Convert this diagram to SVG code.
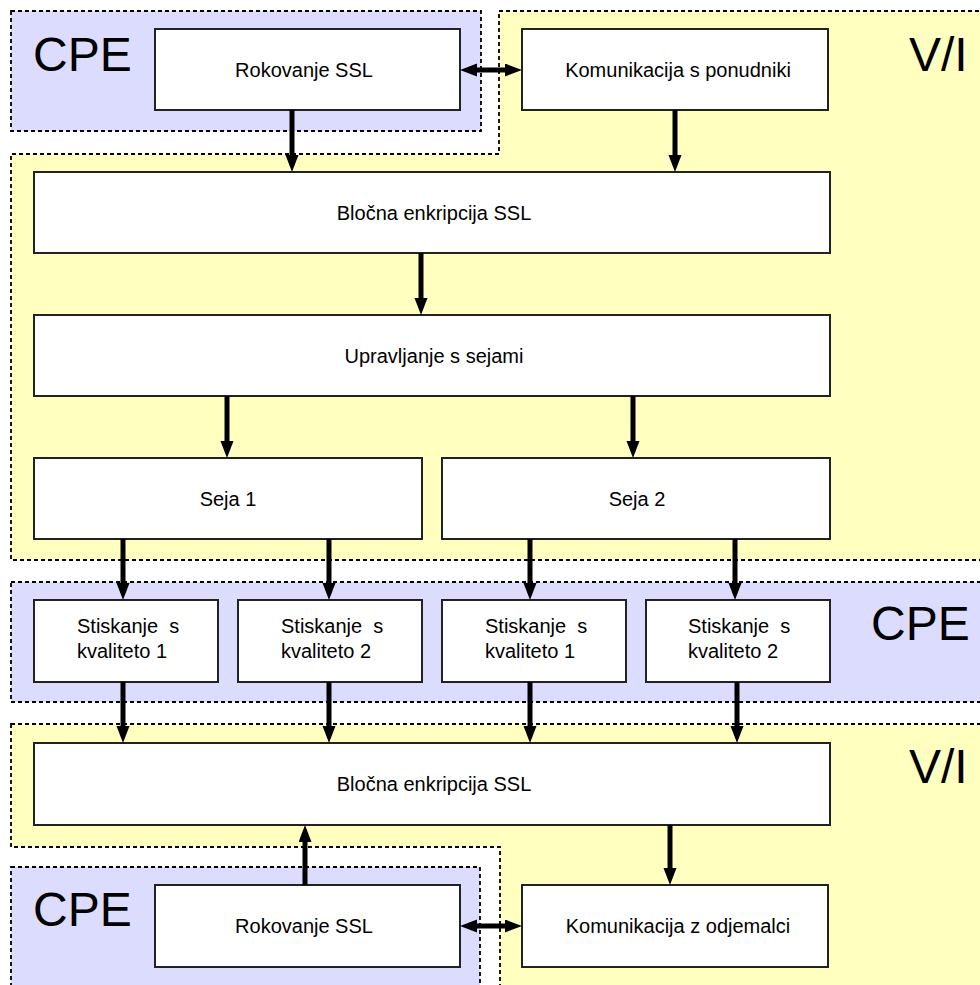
<svg xmlns="http://www.w3.org/2000/svg" width="980" height="985" viewBox="0 0 980 985">
<style>
.cpe{fill:#DCDCFF;stroke:#000;stroke-width:1.8;stroke-dasharray:4,3}
.vi{fill:#FFFFC0;stroke:#000;stroke-width:1.8;stroke-dasharray:4,3}
.box{fill:#fff;stroke:#222;stroke-width:2}
.lbl{font-family:"Liberation Sans",Arial,sans-serif;font-size:20px;fill:#000;text-anchor:middle}
.lbl2{font-family:"Liberation Sans",Arial,sans-serif;font-size:20px;fill:#000}
.big{font-family:"Liberation Sans",Arial,sans-serif;font-size:48px;fill:#000}
.arr{stroke:#000;stroke-width:5;fill:none;marker-end:url(#ah)}
.dbl{stroke:#000;stroke-width:5;fill:none;marker-end:url(#ah);marker-start:url(#ah)}
</style>
<defs>
<marker id="ah" markerUnits="userSpaceOnUse" markerWidth="19" markerHeight="15" refX="2" refY="6.5" orient="auto-start-reverse">
<path d="M0,0 L17,6.5 L0,13 z" fill="#000"/>
</marker>
</defs>
<rect width="980" height="985" fill="#fff"/>
<g id="regions">
<path class="vi" d="M499,11 H995 V560 H11 V154 H499 Z"/>
<rect class="cpe" x="11" y="11" width="470" height="120"/>
<rect class="cpe" x="11" y="582" width="985" height="120"/>
<path class="vi" d="M11,724 H995 V995 H500 V847 H11 Z"/>
<rect class="cpe" x="11" y="867" width="469" height="130"/>
<text class="big" x="33" y="71">CPE</text>
<text class="big" x="909" y="71">V/I</text>
<text class="big" x="871" y="640">CPE</text>
<text class="big" x="909" y="783">V/I</text>
<text class="big" x="33" y="926">CPE</text>
</g>
<g id="n_rok1"><rect class="box" x="155" y="29" width="305" height="81"/><text class="lbl" x="304" y="77">Rokovanje SSL</text></g>
<g id="n_kom1"><rect class="box" x="522" y="29" width="306" height="81"/><text class="lbl" x="678" y="77">Komunikacija s ponudniki</text></g>
<g id="n_blo1"><rect class="box" x="34" y="172" width="796" height="81"/><text class="lbl" x="434" y="220">Bločna enkripcija SSL</text></g>
<g id="n_upr"><rect class="box" x="34" y="315" width="796" height="81"/><text class="lbl" x="434" y="363">Upravljanje s sejami</text></g>
<g id="n_seja1"><rect class="box" x="34" y="458" width="388" height="81"/><text class="lbl" x="228" y="506">Seja 1</text></g>
<g id="n_seja2"><rect class="box" x="442" y="458" width="388" height="81"/><text class="lbl" x="637" y="506">Seja 2</text></g>
<g id="n_st1"><rect class="box" x="34" y="600" width="184" height="82"/><text class="lbl2" xml:space="preserve"><tspan x="77" y="633">Stiskanje  s</tspan><tspan x="77" y="658">kvaliteto 1</tspan></text></g>
<g id="n_st2"><rect class="box" x="238" y="600" width="184" height="82"/><text class="lbl2" xml:space="preserve"><tspan x="281" y="633">Stiskanje  s</tspan><tspan x="281" y="658">kvaliteto 2</tspan></text></g>
<g id="n_st3"><rect class="box" x="442" y="600" width="184" height="82"/><text class="lbl2" xml:space="preserve"><tspan x="485" y="633">Stiskanje  s</tspan><tspan x="485" y="658">kvaliteto 1</tspan></text></g>
<g id="n_st4"><rect class="box" x="646" y="600" width="184" height="82"/><text class="lbl2" xml:space="preserve"><tspan x="688" y="633">Stiskanje  s</tspan><tspan x="688" y="658">kvaliteto 2</tspan></text></g>
<g id="n_blo2"><rect class="box" x="34" y="743" width="796" height="82"/><text class="lbl" x="434" y="791">Bločna enkripcija SSL</text></g>
<g id="n_rok2"><rect class="box" x="155" y="885" width="305" height="82"/><text class="lbl" x="304" y="933">Rokovanje SSL</text></g>
<g id="n_kom2"><rect class="box" x="522" y="885" width="306" height="82"/><text class="lbl" x="678" y="933">Komunikacija z odjemalci</text></g>
<g id="connectors">
<line class="dbl" x1="475" y1="70" x2="507" y2="70"/>
<line class="arr" x1="292" y1="110" x2="292" y2="157"/>
<line class="arr" x1="675" y1="110" x2="675" y2="157"/>
<line class="arr" x1="421" y1="253" x2="421" y2="300"/>
<line class="arr" x1="227" y1="396" x2="227" y2="443"/>
<line class="arr" x1="633" y1="396" x2="633" y2="443"/>
<line class="arr" x1="123" y1="539" x2="123" y2="585"/>
<line class="arr" x1="329" y1="539" x2="329" y2="585"/>
<line class="arr" x1="530" y1="539" x2="530" y2="585"/>
<line class="arr" x1="735" y1="539" x2="735" y2="585"/>
<line class="arr" x1="123" y1="682" x2="123" y2="728"/>
<line class="arr" x1="329" y1="682" x2="329" y2="728"/>
<line class="arr" x1="530" y1="682" x2="530" y2="728"/>
<line class="arr" x1="737" y1="682" x2="737" y2="728"/>
<line class="arr" x1="305" y1="885" x2="305" y2="840"/>
<line class="arr" x1="670" y1="825" x2="670" y2="870"/>
<line class="dbl" x1="475" y1="926" x2="507" y2="926"/>
</g>
</svg>
